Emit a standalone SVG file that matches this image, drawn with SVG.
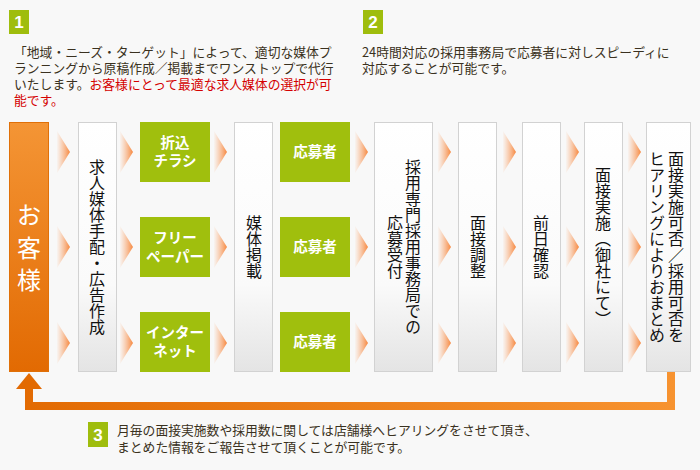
<svg xmlns="http://www.w3.org/2000/svg" width="700" height="470" viewBox="0 0 700 470">
<style>
.t{font-family:"Noto Sans CJK JP","Noto Sans",sans-serif;font-size:12.8px;fill:#3a3120}
.red{fill:#d40000}
.badge{fill:#9fbd0d}
.bn{font-family:"Liberation Sans Narrow","Liberation Sans",sans-serif;font-weight:bold;font-size:17px;fill:#fff;text-anchor:middle}
.box{fill:url(#grey);stroke:#d2d2d2;stroke-width:1}
.green{fill:#a0bf0d}
.gt{font-family:"Noto Sans CJK JP",sans-serif;font-weight:bold;font-size:14.5px;fill:#fff;text-anchor:middle}
.vt{font-family:"Noto Sans CJK JP",sans-serif;font-size:16px;fill:#111;writing-mode:vertical-rl;text-anchor:middle}
.ot{font-family:"Noto Sans CJK JP",sans-serif;font-size:24px;fill:#fff;text-anchor:middle;dominant-baseline:central}
.chev{fill:url(#chevg)}
</style>
<defs>
<linearGradient id="grey" x1="0" y1="0" x2="0" y2="1">
<stop offset="0" stop-color="#ffffff"/>
<stop offset="0.65" stop-color="#fafafa"/>
<stop offset="1" stop-color="#e4e4e4"/>
</linearGradient>
<linearGradient id="orange" x1="0" y1="0" x2="0" y2="1">
<stop offset="0" stop-color="#f49535"/>
<stop offset="1" stop-color="#e26a02"/>
</linearGradient>
<linearGradient id="chevg" x1="0" y1="0" x2="1" y2="0">
<stop offset="0" stop-color="#f9a46c" stop-opacity="0.05"/>
<stop offset="1" stop-color="#f7883f" stop-opacity="1"/>
</linearGradient>
<linearGradient id="lineg" gradientUnits="userSpaceOnUse" x1="16" y1="0" x2="675" y2="0">
<stop offset="0" stop-color="#e26a02"/>
<stop offset="1" stop-color="#f79330"/>
</linearGradient>
<polygon id="cv" points="0,-21 13,0 0,21"/>
</defs>
<rect x="0" y="0" width="700" height="470" fill="#f8f8f8"/>

<g id="note1">
<rect class="badge" x="9" y="10" width="20" height="24"/>
<text class="bn" x="19" y="28">1</text>
<text class="t" x="14" y="57">「地域・ニーズ・ターゲット」によって、適切な媒体プ<tspan x="14" dy="16">ランニングから原稿作成／掲載までワンストップで代行</tspan><tspan x="14" dy="16">いたします。</tspan><tspan class="red">お客様にとって最適な求人媒体の選択が可</tspan><tspan class="red" x="14" dy="16">能です。</tspan></text>
</g>

<g id="note2">
<rect class="badge" x="363" y="10" width="20" height="24"/>
<text class="bn" x="373" y="28">2</text>
<text class="t" x="362" y="57">24時間対応の採用事務局で応募者に対しスピーディに<tspan x="362" dy="16">対応することが可能です。</tspan></text>
</g>

<g id="connectors">
<g class="chev">
<use href="#cv" x="57" y="152"/><use href="#cv" x="57" y="247"/><use href="#cv" x="57" y="343"/>
<use href="#cv" x="120" y="152"/><use href="#cv" x="120" y="247"/><use href="#cv" x="120" y="343"/>
<use href="#cv" x="214" y="152"/><use href="#cv" x="214" y="247"/><use href="#cv" x="214" y="343"/>
<use href="#cv" x="355" y="152"/><use href="#cv" x="355" y="247"/><use href="#cv" x="355" y="343"/>
<use href="#cv" x="438" y="152"/><use href="#cv" x="438" y="247"/><use href="#cv" x="438" y="343"/>
<use href="#cv" x="503" y="152"/><use href="#cv" x="503" y="247"/><use href="#cv" x="503" y="343"/>
<use href="#cv" x="566" y="152"/><use href="#cv" x="566" y="247"/><use href="#cv" x="566" y="343"/>
<use href="#cv" x="628" y="152"/><use href="#cv" x="628" y="247"/><use href="#cv" x="628" y="343"/>
</g>
<path d="M671,372 V406 H29 V388" fill="none" stroke="url(#lineg)" stroke-width="8"/>
<polygon points="29,373 16,389 42,389" fill="#e26a02"/>
</g>

<g id="customer">
<rect x="9.5" y="122.5" width="39" height="249" fill="url(#orange)" stroke="#e07008"/>
<text class="ot" x="29" y="213">お</text>
<text class="ot" x="29" y="246">客</text>
<text class="ot" x="29" y="278">様</text>
</g>

<g id="media-prep">
<rect class="box" x="78.5" y="122.5" width="38" height="249"/>
<text class="vt" x="97" y="247">求人媒体手配・広告作成</text>
</g>

<g id="flyer">
<rect class="green" x="140" y="122" width="70" height="60"/>
<text class="gt" x="175" y="148">折込<tspan x="175" dy="18">チラシ</tspan></text>
</g>
<g id="freepaper">
<rect class="green" x="140" y="217" width="70" height="60"/>
<text class="gt" x="175" y="243">フリー<tspan x="175" dy="19">ペーパー</tspan></text>
</g>
<g id="internet">
<rect class="green" x="140" y="312" width="70" height="60"/>
<text class="gt" x="175" y="338">インター<tspan x="175" dy="18">ネット</tspan></text>
</g>

<g id="posting">
<rect class="box" x="234.5" y="122.5" width="38" height="249"/>
<text class="vt" x="254" y="247">媒体掲載</text>
</g>

<g id="applicant1">
<rect class="green" x="280" y="122" width="70" height="60"/>
<text class="gt" x="315" y="157">応募者</text>
</g>
<g id="applicant2">
<rect class="green" x="280" y="217" width="70" height="60"/>
<text class="gt" x="315" y="252">応募者</text>
</g>
<g id="applicant3">
<rect class="green" x="280" y="312" width="70" height="60"/>
<text class="gt" x="315" y="347">応募者</text>
</g>

<g id="reception">
<rect class="box" x="374.5" y="122.5" width="58" height="249"/>
<text class="vt" x="413" y="247">採用専門採用事務局での</text>
<text class="vt" x="395" y="247">応募受付</text>
</g>

<g id="scheduling">
<rect class="box" x="458.5" y="122.5" width="38" height="249"/>
<text class="vt" x="478" y="247">面接調整</text>
</g>

<g id="confirm">
<rect class="box" x="522.5" y="122.5" width="38" height="249"/>
<text class="vt" x="541" y="247">前日確認</text>
</g>

<g id="interview">
<rect class="box" x="584.5" y="122.5" width="38" height="249"/>
<text class="vt" x="603" y="247">面接実施（御社にて）</text>
</g>

<g id="summary">
<rect class="box" x="646.5" y="122.5" width="44" height="249"/>
<text class="vt" x="676" y="247">面接実施可否／採用可否を</text>
<text class="vt" x="657" y="247">ヒアリングによりおまとめ</text>
</g>

<g id="note3">
<rect class="badge" x="88" y="422" width="20" height="25"/>
<text class="bn" x="98" y="441">3</text>
<text class="t" x="117" y="435">月毎の面接実施数や採用数に関しては店舗様へヒアリングをさせて頂き、<tspan x="117" dy="17">まとめた情報をご報告させて頂くことが可能です。</tspan></text>
</g>
</svg>
